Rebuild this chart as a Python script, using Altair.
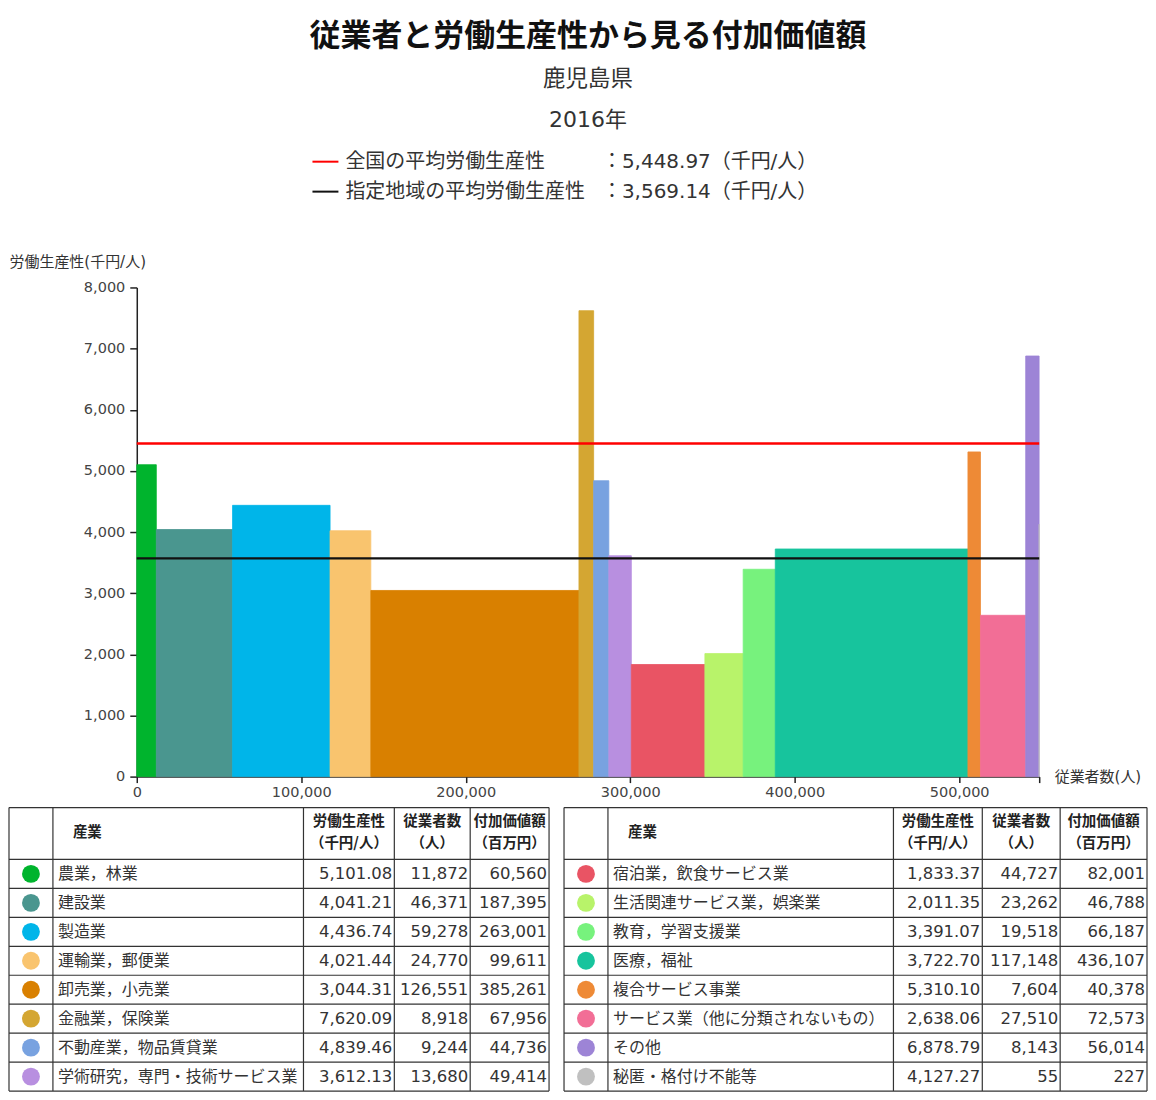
import altair as alt
import pandas as pd

JP = "Noto Sans CJK JP"
NUM = "DejaVu Sans"
MIX = "DejaVu Sans, Noto Sans CJK JP"

TITLE = "従業者と労働生産性から見る付加価値額"
REGION = "鹿児島県"
YEAR = "2016年"
Y_TITLE = "労働生産性(千円/人)"
X_TITLE = "従業者数(人)"
LEGEND_LABELS = ["全国の平均労働生産性", "指定地域の平均労働生産性"]
AVERAGES = [5448.97, 3569.14]
AVG_COLORS = ["#FF0000", "#111111"]

industries = [
    "農業，林業", "建設業", "製造業", "運輸業，郵便業", "卸売業，小売業",
    "金融業，保険業", "不動産業，物品賃貸業", "学術研究，専門・技術サービス業",
    "宿泊業，飲食サービス業", "生活関連サービス業，娯楽業", "教育，学習支援業",
    "医療，福祉", "複合サービス事業", "サービス業（他に分類されないもの）",
    "その他", "秘匿・格付け不能等",
]
productivity = [5101.08, 4041.21, 4436.74, 4021.44, 3044.31, 7620.09, 4839.46, 3612.13,
                1833.37, 2011.35, 3391.07, 3722.70, 5310.10, 2638.06, 6878.79, 4127.27]
employees = [11872, 46371, 59278, 24770, 126551, 8918, 9244, 13680,
             44727, 23262, 19518, 117148, 7604, 27510, 8143, 55]
value_added = [60560, 187395, 263001, 99611, 385261, 67956, 44736, 49414,
               82001, 46788, 66187, 436107, 40378, 72573, 56014, 227]
colors = ["#00B42D", "#4A968F", "#00B5E9", "#F9C46E", "#D98000", "#D4A632", "#78A2E0", "#B88FE0",
          "#E95464", "#B8F36A", "#77F27D", "#17C49D", "#EE8A36", "#F26E96", "#9D84D6", "#C0C0C0"]

y_ticks = [0, 1000, 2000, 3000, 4000, 5000, 6000, 7000, 8000]
x_ticks = [0, 100000, 200000, 300000, 400000, 500000]

NUM_HEADERS = [("労働生産性", "（千円/人）"), ("従業者数", "（人）"), ("付加価値額", "（百万円）")]
INDUSTRY_HEADER = "産業"

# ---------------- main chart ----------------
W, H = 904, 490
LEFT_EXT = 128          # space left of the plot (y-axis title)
total = sum(employees)

df = pd.DataFrame({
    "industry": industries, "prod": productivity, "emp": employees,
    "va": value_added, "order": list(range(len(industries))),
})
color_scale = alt.Scale(domain=industries, range=colors)

bars = alt.Chart(df).transform_window(
    cum="sum(emp)", sort=[alt.SortField("order", order="ascending")], frame=[None, 0]
).transform_calculate(
    start="datum.cum - datum.emp"
).mark_rect(strokeWidth=0.8).encode(
    x=alt.X("start:Q", scale=alt.Scale(domain=[0, total], nice=False, zero=False),
            axis=alt.Axis(values=x_ticks + [total],
                          labelExpr=f"datum.value > {max(x_ticks)} ? '' : format(datum.value, ',')",
                          title=X_TITLE, titleAngle=0, titleX=W + 15, titleY=0,
                          titleAlign="left", titleBaseline="middle", titleFont=MIX,
                          titleFontSize=15, titleFontWeight="normal", titleColor="#333",
                          labelFont=NUM, labelFontSize=14.5, labelColor="#444",
                          labelFlush=False, labelOverlap=False, labelPadding=3,
                          tickSize=6, tickColor="#222", tickWidth=1.5,
                          domainColor="#222", domainWidth=1.5, grid=False)),
    x2="cum:Q",
    y=alt.Y("prod:Q", scale=alt.Scale(domain=[0, 8000], nice=False),
            axis=alt.Axis(values=y_ticks, format=",.0f", title=Y_TITLE, titleAngle=0,
                          titleX=-LEFT_EXT, titleY=-26, titleAlign="left", titleBaseline="middle",
                          titleFont=MIX, titleFontSize=15, titleFontWeight="normal",
                          titleColor="#333", labelFont=NUM, labelFontSize=14.5,
                          labelColor="#444", labelFlush=False, labelPadding=5,
                          tickSize=7, tickColor="#222", tickWidth=1.5,
                          domainColor="#222", domainWidth=1.5, grid=False)),
    y2=alt.datum(0),
    color=alt.Color("industry:N", scale=color_scale, legend=None),
    stroke=alt.Stroke("industry:N", scale=color_scale, legend=None),
)

layers = [bars]
for val, col in zip(AVERAGES, AVG_COLORS):
    layers.append(
        alt.Chart(pd.DataFrame({"prod": [val]})).mark_rule(color=col, strokeWidth=2.5).encode(y="prod:Q")
    )


def label(text, x, y, size, weight="normal", align="center", color="#222", font=JP):
    return alt.Chart(pd.DataFrame({"t": [text]})).mark_text(
        font=font, fontSize=size, fontWeight=weight, align=align, baseline="middle", color=color
    ).encode(x=alt.value(x), y=alt.value(y), text="t:N")


layers.append(label(TITLE, W / 2, -251, 31, weight="bold", color="#111"))
layers.append(label(REGION, W / 2, -209, 22.5, color="#333"))
layers.append(label(YEAR, W / 2, -168, 22, color="#333", font=MIX))

legend_y = [-126, -96]
for lab, val, col, yy in zip(LEGEND_LABELS, AVERAGES, AVG_COLORS, legend_y):
    src = alt.Chart(pd.DataFrame({"prod": [val]}))
    layers.append(src.mark_rule(color=col, strokeWidth=2).encode(
        x=alt.value(176), x2=alt.value(202), y=alt.value(yy)))
    layers.append(label(lab, 209, yy, 20, align="left", color="#333"))
    layers.append(src.transform_calculate(
        t="'：' + format(datum.prod, ',.2f') + '（千円/人）'"
    ).mark_text(font=MIX, fontSize=20, align="left", baseline="middle", color="#333").encode(
        x=alt.value(466), y=alt.value(yy), text="t:N"))

main = alt.layer(*layers).properties(width=W, height=H)

# ---------------- tables ----------------
HEADER_H, ROW_H = 52, 29
TABLE_W = 1140
N_ROWS = 8
HT = HEADER_H + ROW_H * N_ROWS
xs = alt.Scale(domain=[0, TABLE_W], range=[-LEFT_EXT, TABLE_W - LEFT_EXT], nice=False, zero=False)
ys = alt.Scale(domain=[0, HT], range=[0, HT], nice=False, zero=False)


def table_layers(start, stop, cols, off):
    cols = [c + off for c in cols]
    sub = df.iloc[start:stop].reset_index(drop=True)
    sub["row"] = list(range(len(sub)))

    segs = []
    for c in cols:
        segs.append({"x": c, "x2": c, "y": 0, "y2": HT})
    for r in [0] + [HEADER_H + ROW_H * i for i in range(len(sub) + 1)]:
        segs.append({"x": cols[0], "x2": cols[-1], "y": r, "y2": r})
    grid = alt.Chart(pd.DataFrame(segs)).mark_rule(color="#333", strokeWidth=1.2).encode(
        x=alt.X("x:Q", scale=xs, axis=None), x2="x2:Q",
        y=alt.Y("y:Q", scale=ys, axis=None), y2="y2:Q")

    rb = alt.Chart(sub).transform_calculate(
        yc=f"{HEADER_H} + (datum.row + 0.5) * {ROW_H}",
        xc=f"{(cols[0] + cols[1]) / 2}",
        xn=f"{cols[1] + 5}",
        xp=f"{cols[3] - 2}",
        xe=f"{cols[4] - 2}",
        xv=f"{cols[5] - 2}",
    )
    yenc = alt.Y("yc:Q", scale=ys, axis=None)
    dots = rb.mark_circle(size=320, opacity=1).encode(
        x=alt.X("xc:Q", scale=xs, axis=None), y=yenc,
        color=alt.Color("industry:N", scale=color_scale, legend=None))
    names = rb.mark_text(font=JP, fontSize=16, align="left", baseline="middle", color="#333").encode(
        x=alt.X("xn:Q", scale=xs, axis=None), y=yenc, text="industry:N")
    tp = rb.mark_text(font=NUM, fontSize=16.5, align="right", baseline="middle", color="#333").encode(
        x=alt.X("xp:Q", scale=xs, axis=None), y=yenc, text=alt.Text("prod:Q", format=",.2f"))
    te = rb.mark_text(font=NUM, fontSize=16.5, align="right", baseline="middle", color="#333").encode(
        x=alt.X("xe:Q", scale=xs, axis=None), y=yenc, text=alt.Text("emp:Q", format=",d"))
    tv = rb.mark_text(font=NUM, fontSize=16.5, align="right", baseline="middle", color="#333").encode(
        x=alt.X("xv:Q", scale=xs, axis=None), y=yenc, text=alt.Text("va:Q", format=",d"))

    hdr_rows = []
    for j, (l1, l2) in enumerate(NUM_HEADERS):
        cx = (cols[j + 2] + cols[j + 3]) / 2
        hdr_rows.append({"t": l1, "hx": cx, "hy": 14})
        hdr_rows.append({"t": l2, "hx": cx, "hy": 37})
    hdr = alt.Chart(pd.DataFrame(hdr_rows)).mark_text(
        font=JP, fontSize=14.5, fontWeight="bold", align="center", baseline="middle", color="#222"
    ).encode(x=alt.X("hx:Q", scale=xs, axis=None), y=alt.Y("hy:Q", scale=ys, axis=None), text="t:N")
    hdr0 = alt.Chart(pd.DataFrame({"t": [INDUSTRY_HEADER], "hx": [cols[1] + 20], "hy": [HEADER_H / 2]})).mark_text(
        font=JP, fontSize=14.5, fontWeight="bold", align="left", baseline="middle", color="#222"
    ).encode(x=alt.X("hx:Q", scale=xs, axis=None), y=alt.Y("hy:Q", scale=ys, axis=None), text="t:N")

    return [grid, dots, names, tp, te, tv, hdr, hdr0]


tables = alt.layer(
    *table_layers(0, 8, [0, 44, 295, 386, 462, 541], 0),
    *table_layers(8, 16, [0, 44, 330, 419, 497, 584], 556),
).properties(width=TABLE_W - LEFT_EXT, height=HT)

chart = alt.vconcat(main, tables, spacing=7).properties(
    padding={"left": 0, "top": 12, "right": 0, "bottom": 0}
).configure(font=JP).configure_view(stroke=None)

chart.save("out.html", embed_options={"renderer": "svg", "actions": False})
